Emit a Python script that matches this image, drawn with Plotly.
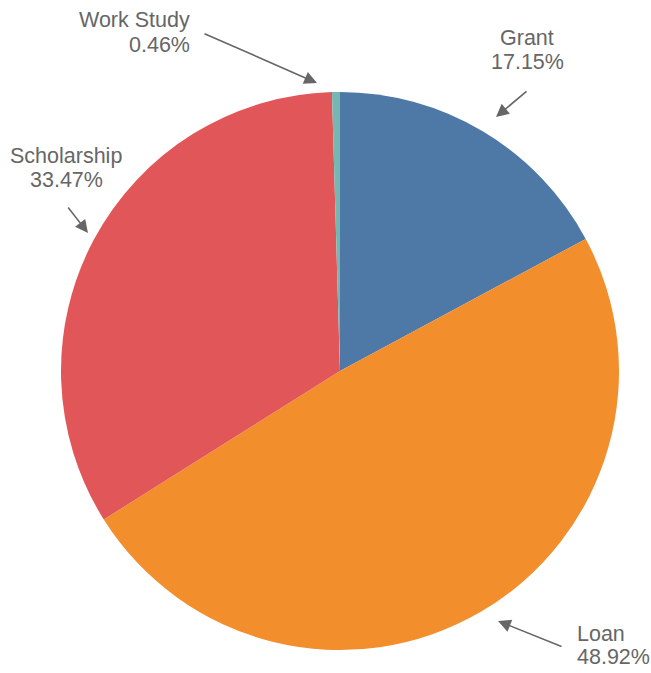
import plotly.graph_objects as go

# data
labels = ["Grant", "Loan", "Scholarship", "Work Study"]
shares = [17.15, 48.92, 33.47, 0.46]
colors = ["#4e79a7", "#f28e2b", "#e15759", "#76b7b2"]

W, H = 651, 673

# label layout (pixel positions in the page): text anchor x, line centres, arrow tail, arrow tip
label_pos = {
    "Grant":       dict(tx=527, ty=(38, 62), xa="center", tail=(528, 90), tip=(496, 117)),
    "Loan":        dict(tx=575, ty=(634, 657), xa="left", tail=(563, 647), tip=(498, 621)),
    "Scholarship": dict(tx=66, ty=(156, 180), xa="center", tail=(67, 206), tip=(88, 233)),
    "Work Study":  dict(tx=192, ty=(20, 45), xa="right", tail=(203, 33), tip=(317, 83)),
}

def px(x):
    return x / W

def py(y):
    return 1 - y / H

cx, cy, r = 340, 371, 279

fig = go.Figure()
fig.add_trace(go.Pie(
    labels=labels,
    values=shares,
    marker=dict(colors=colors, line=dict(width=0)),
    sort=False,
    direction="clockwise",
    rotation=0,
    textinfo="none",
    hoverinfo="label+percent",
    showlegend=False,
    domain=dict(x=[px(cx - r), px(cx + r)], y=[py(cy + r), py(cy - r)]),
))

font = dict(family="Liberation Sans, Arial, sans-serif", size=21.5, color="#666666")
annotations = []
for lab, val in zip(labels, shares):
    p = label_pos[lab]
    for line, y in zip([lab, f"{val:.2f}%"], p["ty"]):
        annotations.append(dict(
            text=line, x=px(p["tx"]), y=py(y), xref="paper", yref="paper",
            xanchor=p["xa"], yanchor="middle", showarrow=False, font=font,
        ))
    tx, ty = p["tail"]
    hx, hy = p["tip"]
    annotations.append(dict(
        text="", x=px(hx), y=py(hy), xref="paper", yref="paper",
        ax=tx - hx, ay=ty - hy, axref="pixel", ayref="pixel",
        showarrow=True, arrowhead=2, arrowsize=1.6, arrowwidth=1.6,
        arrowcolor="#666666", standoff=0,
    ))

fig.update_layout(
    width=W, height=H,
    margin=dict(l=0, r=0, t=0, b=0),
    paper_bgcolor="white",
    plot_bgcolor="white",
    annotations=annotations,
)

# drop the default page margin so the figure fills the window
fig.write_html("out.html", config={"displayModeBar": False},
               post_script="document.body.style.margin='0';")
